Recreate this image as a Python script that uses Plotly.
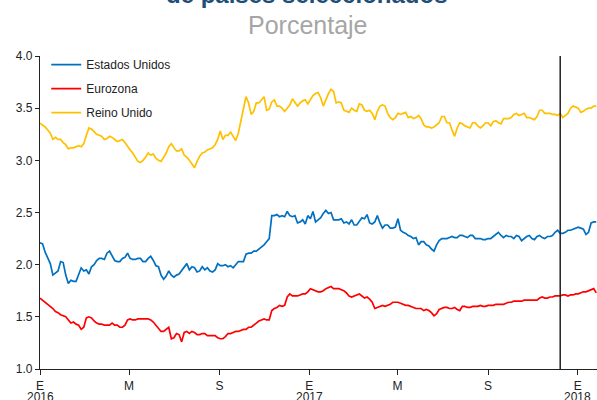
import pandas as pd
import plotly.graph_objects as go

start_date = "2016-01-01"
n_points = 217          # one reading every half week
step = "84h"

estados_unidos = [
    2.21, 2.20, 2.12, 2.06, 2.01, 1.90, 1.92, 1.94, 2.03, 2.02,
    1.90, 1.82, 1.85, 1.84, 1.84, 1.90, 1.97, 1.94, 1.95, 1.91,
    1.98, 2.00, 2.04, 2.06, 2.06, 2.05, 2.11, 2.13, 2.09, 2.04,
    2.03, 2.03, 2.06, 2.07, 2.11, 2.06, 2.05, 2.05, 2.06, 2.06,
    2.03, 2.03, 2.06, 2.08, 2.04, 1.99, 1.98, 1.90, 1.86, 1.89,
    1.94, 1.90, 1.88, 1.90, 1.91, 1.94, 1.97, 2.01, 1.95, 1.98,
    1.97, 1.93, 1.94, 1.98, 1.95, 1.97, 1.94, 1.93, 1.95, 2.01,
    1.99, 1.99, 2.00, 1.98, 1.99, 1.97, 2.00, 2.03, 2.03, 2.03,
    2.10, 2.11, 2.11, 2.13, 2.13, 2.15, 2.17, 2.19, 2.22, 2.25,
    2.47, 2.47, 2.48, 2.46, 2.47, 2.46, 2.51, 2.47, 2.46, 2.47,
    2.40, 2.41, 2.43, 2.39, 2.47, 2.44, 2.51, 2.41, 2.43, 2.45,
    2.49, 2.52, 2.49, 2.50, 2.43, 2.43, 2.43, 2.44, 2.40, 2.41,
    2.39, 2.43, 2.38, 2.38, 2.42, 2.45, 2.44, 2.48, 2.40, 2.39,
    2.41, 2.47, 2.40, 2.35, 2.38, 2.38, 2.35, 2.35, 2.36, 2.44,
    2.33, 2.31, 2.30, 2.28, 2.27, 2.25, 2.26, 2.19, 2.22, 2.22,
    2.19, 2.18, 2.15, 2.13, 2.19, 2.23, 2.25, 2.25, 2.25, 2.26,
    2.27, 2.26, 2.26, 2.28, 2.28, 2.27, 2.26, 2.28, 2.28, 2.25,
    2.25, 2.25, 2.24, 2.24, 2.25, 2.25, 2.27, 2.29, 2.31, 2.28,
    2.26, 2.28, 2.27, 2.27, 2.25, 2.28, 2.27, 2.23, 2.25, 2.27,
    2.28, 2.25, 2.24, 2.27, 2.28, 2.26, 2.25, 2.27, 2.27, 2.28,
    2.31, 2.33, 2.30, 2.30, 2.31, 2.33, 2.33, 2.34, 2.35, 2.36,
    2.35, 2.34, 2.29, 2.31, 2.40, 2.41, 2.41,
]

eurozona = [
    1.68, 1.66, 1.64, 1.62, 1.60, 1.58, 1.55, 1.54, 1.52, 1.51,
    1.50, 1.47, 1.44, 1.45, 1.43, 1.42, 1.38, 1.40, 1.49, 1.50,
    1.49, 1.46, 1.44, 1.43, 1.43, 1.42, 1.42, 1.42, 1.44, 1.42,
    1.42, 1.40, 1.40, 1.42, 1.47, 1.48, 1.47, 1.47, 1.48, 1.48,
    1.48, 1.48, 1.48, 1.47, 1.45, 1.42, 1.39, 1.36, 1.36, 1.38,
    1.40, 1.29, 1.30, 1.34, 1.33, 1.26, 1.35, 1.36, 1.34, 1.36,
    1.35, 1.33, 1.33, 1.34, 1.34, 1.32, 1.32, 1.32, 1.32, 1.30,
    1.29, 1.29, 1.31, 1.34, 1.34, 1.35, 1.36, 1.36, 1.37, 1.38,
    1.38, 1.40, 1.40, 1.42, 1.44, 1.46, 1.47, 1.48, 1.47, 1.47,
    1.56, 1.58, 1.59, 1.61, 1.60, 1.61, 1.69, 1.72, 1.70, 1.70,
    1.70, 1.71, 1.72, 1.72, 1.74, 1.77, 1.76, 1.75, 1.74, 1.74,
    1.75, 1.77, 1.78, 1.79, 1.77, 1.77, 1.77, 1.76, 1.75, 1.73,
    1.70, 1.69, 1.70, 1.71, 1.72, 1.70, 1.68, 1.69, 1.67, 1.64,
    1.58, 1.59, 1.60, 1.61, 1.60, 1.61, 1.62, 1.64, 1.64, 1.64,
    1.63, 1.62, 1.61, 1.61, 1.60, 1.59, 1.58, 1.58, 1.58, 1.56,
    1.57, 1.56, 1.54, 1.51, 1.53, 1.57, 1.58, 1.59, 1.59, 1.58,
    1.58, 1.59, 1.57, 1.56, 1.60, 1.60, 1.59, 1.59, 1.60, 1.60,
    1.60, 1.61, 1.60, 1.60, 1.61, 1.61, 1.61, 1.62, 1.62, 1.62,
    1.62, 1.63, 1.64, 1.64, 1.65, 1.65, 1.65, 1.65, 1.66, 1.66,
    1.66, 1.66, 1.66, 1.66, 1.68, 1.69, 1.68, 1.68, 1.69, 1.69,
    1.70, 1.70, 1.70, 1.71, 1.71, 1.70, 1.71, 1.71, 1.72, 1.72,
    1.73, 1.74, 1.74, 1.75, 1.76, 1.77, 1.73,
]

reino_unido = [
    3.355, 3.34, 3.32, 3.29, 3.26, 3.20, 3.22, 3.20, 3.20, 3.17,
    3.15, 3.11, 3.12, 3.12, 3.13, 3.14, 3.13, 3.16, 3.24, 3.31,
    3.30, 3.27, 3.25, 3.24, 3.23, 3.20, 3.21, 3.23, 3.22, 3.20,
    3.18, 3.19, 3.20, 3.17, 3.13, 3.10, 3.07, 3.03, 2.99, 2.98,
    3.00, 3.03, 3.07, 3.05, 3.06, 3.02, 3.00, 2.99, 3.03, 3.07,
    3.13, 3.16, 3.12, 3.09, 3.09, 3.11, 3.05, 3.03, 3.00, 2.96,
    2.93, 2.99, 3.04, 3.07, 3.08, 3.10, 3.11, 3.12, 3.15, 3.20,
    3.28, 3.20, 3.24, 3.24, 3.27, 3.23, 3.19, 3.26, 3.38, 3.50,
    3.61, 3.55, 3.44, 3.47, 3.55, 3.55, 3.58, 3.61, 3.48, 3.49,
    3.56, 3.58, 3.52, 3.52, 3.50, 3.47, 3.50, 3.53, 3.59, 3.56,
    3.52, 3.55, 3.57, 3.58, 3.54, 3.58, 3.62, 3.64, 3.65, 3.60,
    3.52, 3.58, 3.64, 3.68, 3.66, 3.55, 3.56, 3.55, 3.48, 3.47,
    3.46, 3.50, 3.48, 3.47, 3.54, 3.53, 3.48, 3.47, 3.48, 3.45,
    3.39, 3.47, 3.52, 3.53, 3.52, 3.45, 3.41, 3.39, 3.41, 3.45,
    3.44, 3.45, 3.46, 3.41, 3.42, 3.40, 3.41, 3.43, 3.40, 3.34,
    3.32, 3.32, 3.31, 3.32, 3.34, 3.36, 3.42, 3.42, 3.36, 3.36,
    3.29, 3.23, 3.31, 3.36, 3.35, 3.33, 3.32, 3.31, 3.36, 3.36,
    3.33, 3.31, 3.33, 3.36, 3.36, 3.33, 3.37, 3.38, 3.36, 3.35,
    3.40, 3.40, 3.40, 3.41, 3.44, 3.45, 3.43, 3.44, 3.45, 3.41,
    3.41, 3.40, 3.39, 3.42, 3.48, 3.48, 3.45, 3.45, 3.45, 3.44,
    3.44, 3.43, 3.45, 3.41, 3.43, 3.45, 3.50, 3.52, 3.51, 3.50,
    3.46, 3.47, 3.49, 3.50, 3.50, 3.52, 3.52,
]

tick_dates = ["2016-01-01", "2016-05-01", "2016-09-01", "2017-01-01",
              "2017-05-01", "2017-09-01", "2018-01-01"]
tick_labels = ["E", "M", "S", "E", "M", "S", "E"]
year_dates = ["2016-01-01", "2017-01-01", "2018-01-01"]
year_labels = ["2016", "2017", "2018"]
y_ticks = [1.0, 1.5, 2.0, 2.5, 3.0, 3.5, 4.0]
marker_date = "2017-12-08"

dates = pd.date_range(start_date, periods=n_points, freq=step)

font_family = "Arial, 'Liberation Sans', sans-serif"

fig = go.Figure()
series = [
    ("Estados Unidos", estados_unidos, "#0070C0"),
    ("Eurozona", eurozona, "#FF0000"),
    ("Reino Unido", reino_unido, "#FFC000"),
]
for i, (name, vals, color) in enumerate(series):
    fig.add_trace(go.Scatter(
        x=dates, y=vals, mode="lines", name=name,
        line=dict(color=color, width=1.7),
        legendgroup=f"g{i}",
    ))

fig.add_shape(type="line", xref="x", yref="paper",
              x0=marker_date, x1=marker_date, y0=0, y1=1,
              line=dict(color="#222222", width=1.5))

fig.add_annotation(text="<b>de países seleccionados</b>", xref="paper", yref="paper",
                   x=0.479, y=1.198, xanchor="center", yanchor="middle",
                   showarrow=False, font=dict(size=24, color="#1F4E79", family=font_family))
fig.add_annotation(text="Porcentaje", xref="paper", yref="paper",
                   x=0.481, y=1.099, xanchor="center", yanchor="middle",
                   showarrow=False, font=dict(size=25, color="#A6A6A6", family=font_family))

for d, lab in zip(year_dates, year_labels):
    fig.add_annotation(text=lab, xref="x", yref="paper", x=d, y=-0.088,
                       xanchor="center", yanchor="middle", showarrow=False,
                       font=dict(size=12, color="#222222", family=font_family))

fig.update_layout(
    width=597, height=400,
    margin=dict(l=40, r=0, t=56, b=31, autoexpand=False),
    paper_bgcolor="white", plot_bgcolor="white",
    font=dict(family=font_family, size=12, color="#222222"),
    showlegend=True,
    legend=dict(x=0.0112, y=1.019, xanchor="left", yanchor="top",
                bgcolor="rgba(0,0,0,0)", font=dict(size=12),
                tracegroupgap=5),
    xaxis=dict(
        type="date", range=["2016-01-01", "2018-01-27"],
        tickvals=tick_dates, ticktext=tick_labels,
        showgrid=False, zeroline=False, automargin=False,
        showline=True, linecolor="#222222", linewidth=1.2,
        ticks="outside", ticklen=5, tickcolor="#222222",
        tickfont=dict(size=12), tickangle=0,
    ),
    yaxis=dict(
        range=[1.0, 4.0], tickvals=y_ticks,
        tickformat=".1f", automargin=False,
        showgrid=False, zeroline=False,
        showline=True, linecolor="#222222", linewidth=1.2,
        ticks="outside", ticklen=4, tickcolor="#222222",
        tickfont=dict(size=12),
    ),
)

fig.write_html("out.html", config={"displayModeBar": False},
               post_script="document.body.style.margin='0';")
